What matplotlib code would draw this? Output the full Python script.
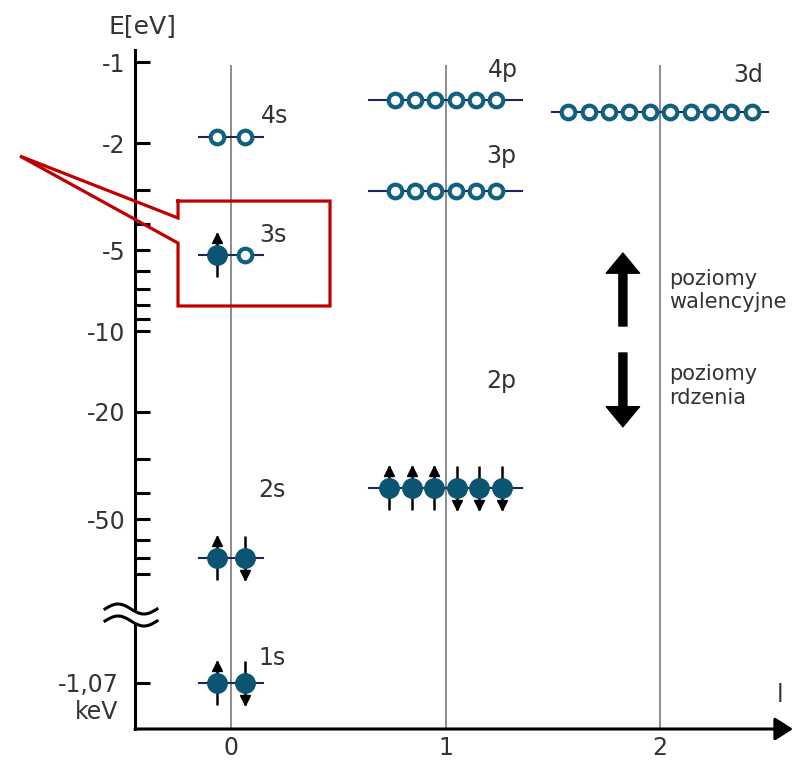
import numpy as np
import matplotlib
matplotlib.use('Agg')
import matplotlib.pyplot as plt
from matplotlib.ticker import NullFormatter, NullLocator
from matplotlib.transforms import offset_copy

plt.rcParams['font.family'] = ['DejaVu Sans']

# poziomy energetyczne sodu
level_names = ['1s', '2s', '2p', '3s', '3p', '4s', '3d', '4p']
level_l = [0, 0, 1, 0, 1, 0, 2, 1]
level_energy = [-1070, -69.6, -38.3, -5.2, -3.02, -1.9, -1.53, -1.38]   # eV
level_electrons = [2, 2, 6, 1, 0, 0, 0, 0]

# gdzie stoja podpisy poziomow (l, E) - linia bazowa tekstu
label_l = [0.19, 0.19, 1.26, 0.196, 1.26, 0.205, 2.41, 1.268]
label_energy = [-917, -41.4, -16.3, -4.67, -2.375, -1.686, -1.187, -1.137]

major_ticks = [1, 2, 5, 10, 20, 50]
minor_ticks = [3, 4, 6, 7, 8, 9, 30, 40, 60, 70, 80]
core_tick = 1070
l_ticks = [0, 1, 2]

TXT = '#333333'
TEAL = '#0b5572'
W, H = 803, 760

fig = plt.figure(figsize=(W / 100, H / 100), dpi=100)
x0, x1 = 135 / W, 793 / W
ax = fig.add_axes([x0, 1 - 615 / H, x1 - x0, (615 - 50) / H])
ax_lo = fig.add_axes([x0, 1 - 729 / H, x1 - x0, (729 - 615) / H], sharex=ax)

ax.set_xlim(-0.4476, 2.620)
for a in (ax, ax_lo):
    a.set_yscale('log')
    for s in ('top', 'right', 'bottom'):
        a.spines[s].set_visible(False)
    a.spines['left'].set_linewidth(2.2)
ax.set_ylim(113.7, 0.902)
ax_lo.set_ylim(1587, 598)

# os energii
ax.set_yticks(major_ticks)
ax.set_yticklabels(['-%d' % t for t in major_ticks])
ax.set_yticks(minor_ticks, minor=True)
ax.yaxis.set_minor_formatter(NullFormatter())
ax.tick_params(axis='y', which='both', direction='in', length=10.8, width=2.2,
               pad=7, labelsize=17, labelcolor=TXT)
ax.tick_params(axis='x', bottom=False, labelbottom=False)

ax_lo.set_yticks([core_tick])
ax_lo.set_yticklabels(['-1,07'])
ax_lo.yaxis.set_minor_locator(NullLocator())
ax_lo.tick_params(axis='y', direction='in', length=10.8, width=2.2, pad=12,
                  labelsize=17, labelcolor=TXT)
ax_lo.annotate('keV', xy=(0, core_tick), xycoords=('axes fraction', 'data'),
               xytext=(-12, -21), textcoords='offset points', ha='right', va='center',
               fontsize=17, color=TXT)
ax_lo.set_xticks(l_ticks)
ax_lo.set_xticklabels([str(t) for t in l_ticks])
ax_lo.tick_params(axis='x', length=0, pad=5, labelsize=17, labelcolor=TXT)

# os l ze strzalka
ax_lo.annotate('', xy=(1, 0), xytext=(0, 0), xycoords='axes fraction',
               arrowprops=dict(arrowstyle='-|>,head_length=0.55,head_width=0.35',
                               lw=2.2, color='k', mutation_scale=20,
                               shrinkA=0, shrinkB=0))
ax_lo.text(0.98, 0.237, 'l', transform=ax_lo.transAxes, ha='center', va='baseline',
           fontsize=17, color=TXT)

for l in l_ticks:
    ax.axvline(l, ymax=(615 - 66) / 565, color='#8c8c8c', lw=1.4, zorder=1)
    ax_lo.axvline(l, color='#8c8c8c', lw=1.4, zorder=1)

# poziomy i elektrony
half_width = [0.15, 0.355, 0.505]
for name, l, en, occ in zip(level_names, level_l, level_energy, level_electrons):
    a = ax_lo if -en > 500 else ax
    mag = -en
    n = 2 * (2 * l + 1)
    step = 0.13 if l == 0 else (0.105 if occ else 0.095)
    xs = l + (np.arange(n) - (n - 1) / 2) * step
    a.plot([l - half_width[l], l + half_width[l]], [mag, mag], color='#1c2560',
           lw=1.5, zorder=2)
    if occ < n:
        a.plot(xs[occ:], [mag] * (n - occ), 'o', ms=9.8, mfc='white', mec='#11607f',
               mew=3, zorder=3)
    if occ:
        a.plot(xs[:occ], [mag] * occ, 'o', ms=14, color=TEAL, mec=TEAL, zorder=4)
        up = offset_copy(a.transData, fig=fig, y=17, units='dots')
        down = offset_copy(a.transData, fig=fig, y=-17, units='dots')
        for i in range(occ):
            a.plot(xs[i], mag, marker='|', ms=31, mew=1.8, color='k', zorder=3)
            if i < n // 2:
                a.plot(xs[i], mag, marker='^', ms=6.5, color='k', transform=up, zorder=5)
            else:
                a.plot(xs[i], mag, marker='v', ms=6.5, color='k', transform=down, zorder=5)

for name, lx, le in zip(level_names, label_l, label_energy):
    a = ax_lo if -le > 500 else ax
    a.text(lx, -le, name, ha='center', va='baseline', fontsize=17, color=TXT)

# strzalki: poziomy walencyjne / rdzenia
ax.annotate('', xy=(1.827, 5.13), xytext=(1.827, 9.58),
            arrowprops=dict(width=5.8, headwidth=24, headlength=14.5, color='k', shrink=0))
ax.annotate('', xy=(1.827, 22.7), xytext=(1.827, 12.07),
            arrowprops=dict(width=5.8, headwidth=24, headlength=14.5, color='k', shrink=0))
for txt, e in [('poziomy', 6.745), ('walencyjne', 8.21), ('poziomy', 15.2), ('rdzenia', 18.68)]:
    ax.text(2.042, e, txt, ha='left', va='baseline', fontsize=15, color=TXT)

# czerwona ramka wokol 3s
bx = [-0.247, 0.4615, 0.4615, -0.247, -0.247, -0.984, -0.247, -0.247]
by = [3.287, 3.287, 8.07, 8.07, 4.71, 2.236, 3.80, 3.287]
ax.plot(bx, by, color='#c00000', lw=2.3, clip_on=False, zorder=6,
        solid_joinstyle='miter')

# nakladka: podpis osi i przerwanie osi
ov = fig.add_axes([0, 0, 1, 1])
ov.set_xlim(0, W)
ov.set_ylim(H, 0)
ov.axis('off')
ov.text(142.5, 33, 'E[eV]', ha='center', va='baseline', fontsize=18, color=TXT)
wx = np.linspace(105, 157, 80)
wave = 5 * np.sin(2 * np.pi * (wx - 105) / 52)
ov.fill_between(wx, 609 - wave, 621 - wave, color='white', zorder=1)
ov.plot(wx, 609 - wave, color='k', lw=2.2, zorder=2)
ov.plot(wx, 621 - wave, color='k', lw=2.2, zorder=2)

fig.savefig('out.png', dpi=100)
